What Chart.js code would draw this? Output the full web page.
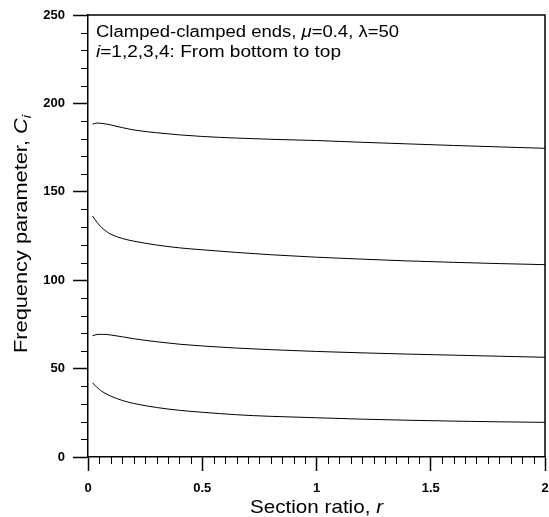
<!DOCTYPE html>
<html>
<head>
<meta charset="utf-8">
<script src="https://cdn.jsdelivr.net/npm/chart.js@4.4.1/dist/chart.umd.min.js"></script>
<style>
  html, body { margin: 0; padding: 0; background: #fff; }
  #wrap { width: 549px; height: 517px; }
</style>
</head>
<body>
<div id="wrap"><canvas id="freqChart" width="549" height="517"></canvas></div>
<script>
// section ratio r (x) and frequency parameters C1..C4
const ratios = [0.02, 0.04, 0.06, 0.08, 0.1, 0.15, 0.2, 0.3, 0.4, 0.5, 0.65, 0.8, 1.0, 1.2, 1.4, 1.6, 1.8, 2.0];
const c1 = [42.0, 39.3, 37.2, 35.7, 34.4, 32.0, 30.3, 28.0, 26.4, 25.3, 23.9, 23.0, 22.2, 21.4, 20.8, 20.3, 19.9, 19.6];
const c2 = [68.6, 69.3, 69.4, 69.3, 69.0, 68.0, 66.9, 65.2, 63.8, 62.8, 61.6, 60.7, 59.7, 58.9, 58.2, 57.6, 57.0, 56.4];
const c3 = [136.3, 132.6, 129.8, 127.6, 126.0, 123.6, 122.1, 119.9, 118.3, 117.2, 115.7, 114.4, 113.0, 111.9, 110.9, 110.1, 109.4, 108.8];
const c4 = [188.3, 188.9, 188.7, 188.3, 187.8, 186.3, 185.0, 183.4, 182.2, 181.3, 180.4, 179.7, 179.0, 178.0, 177.1, 176.2, 175.4, 174.6];

const xTicks = [0, 0.5, 1, 1.5, 2];
const yTicks = [0, 50, 100, 150, 200, 250];

const FONT = "'Liberation Sans', Arial, sans-serif";

function series(values) {
    return {
        data: ratios.map((r, i) => ({ x: r, y: values[i] })),
        borderColor: '#000',
        borderWidth: 1,
        pointRadius: 0,
        fill: false,
        cubicInterpolationMode: 'monotone'
    };
}

// parts: [text, style, size?, dy?]; width = drawn width (text is stretched to fit)
function drawParts(ctx, parts, size, x, y, align, width) {
    let total = 0;
    parts.forEach(p => {
        ctx.font = p[1] + (p[2] || size) + 'px ' + FONT;
        total += ctx.measureText(p[0]).width;
    });
    const sx = width ? width / total : 1;
    ctx.save();
    ctx.translate(align === 'center' ? x - total * sx / 2 : x, y);
    ctx.scale(sx, 1);
    ctx.textAlign = 'left';
    let cx = 0;
    parts.forEach(p => {
        ctx.font = p[1] + (p[2] || size) + 'px ' + FONT;
        ctx.fillText(p[0], cx, p[3] || 0);
        cx += ctx.measureText(p[0]).width;
    });
    ctx.restore();
}

// minor ticks, frame and the text with italic parts
const decorations = {
    id: 'decorations',
    afterDraw(chart) {
        const ctx = chart.ctx;
        const xs = chart.scales.x, ys = chart.scales.y;
        const a = chart.chartArea;
        ctx.save();
        ctx.strokeStyle = '#000';
        ctx.lineWidth = 1;
        ctx.beginPath();
        for (let v = 10; v < 250; v += 10) {
            if (v % 50 === 0) continue;
            const py = Math.round(ys.getPixelForValue(v)) + 0.5;
            ctx.moveTo(a.left - 7, py);
            ctx.lineTo(a.left, py);
        }
        for (let k = 1; k < 40; k++) {
            if (k % 10 === 0) continue;
            const px = Math.round(xs.getPixelForValue(k * 0.05)) + 0.5;
            ctx.moveTo(px, a.bottom);
            ctx.lineTo(px, a.bottom + 7);
        }
        ctx.stroke();

        // top and right frame
        ctx.lineWidth = 1.5;
        ctx.beginPath();
        ctx.moveTo(a.left, a.top);
        ctx.lineTo(a.right, a.top);
        ctx.lineTo(a.right, a.bottom);
        ctx.stroke();

        ctx.fillStyle = '#000';
        ctx.textBaseline = 'alphabetic';

        // x title
        drawParts(ctx, [['Section ratio, ', ''], ['r', 'italic ']], 19,
            (a.left + a.right) / 2, 513, 'center', 133);

        // y title (rotated)
        ctx.save();
        ctx.translate(27, (a.top + a.bottom) / 2 - 2);
        ctx.rotate(-Math.PI / 2);
        drawParts(ctx, [['Frequency parameter, ', ''], ['C', 'italic '], ['i', 'italic ', 13, 4]], 19,
            0, 0, 'center', 238);
        ctx.restore();

        // annotation
        drawParts(ctx, [['Clamped-clamped ends, ', ''], ['\u03bc', 'italic '], ['=0.4, \u03bb=50', '']],
            16, a.left + 8, a.top + 22, 'left', 303);
        drawParts(ctx, [['i', 'italic '], ['=1,2,3,4: From bottom to top', '']],
            16, a.left + 8, a.top + 42, 'left', 245);
        ctx.restore();
    }
};

const ctx = document.getElementById('freqChart').getContext('2d');
new Chart(ctx, {
    type: 'line',
    data: { datasets: [series(c1), series(c2), series(c3), series(c4)] },
    options: {
        responsive: false,
        animation: false,
        layout: { padding: { left: 0, top: 15, right: 4, bottom: 0 } },
        plugins: { legend: { display: false }, tooltip: { enabled: false } },
        scales: {
            x: {
                type: 'linear',
                min: 0, max: 2,
                afterBuildTicks: s => { s.ticks = xTicks.map(v => ({ value: v })); },
                afterFit: s => { s.height = 60; s.paddingLeft = 0; s.paddingRight = 0; },
                ticks: {
                    color: '#000', font: { family: FONT, size: 13, weight: 'bold' }, padding: 10, maxRotation: 0,
                    callback: v => String(v)
                },
                grid: { drawOnChartArea: false, color: '#000', tickLength: 14, tickWidth: 1.5 },
                border: { display: true, color: '#000', width: 1.5 }
            },
            y: {
                type: 'linear',
                min: 0, max: 250,
                afterBuildTicks: s => { s.ticks = yTicks.map(v => ({ value: v })); },
                afterFit: s => { s.width = 88; s.paddingTop = 0; s.paddingBottom = 0; },
                ticks: { color: '#000', font: { family: FONT, size: 13, weight: 'bold' }, padding: 8 },
                grid: { drawOnChartArea: false, color: '#000', tickLength: 15, tickWidth: 1.5 },
                border: { display: true, color: '#000', width: 1.5 }
            }
        }
    },
    plugins: [decorations]
});
</script>
</body>
</html>
